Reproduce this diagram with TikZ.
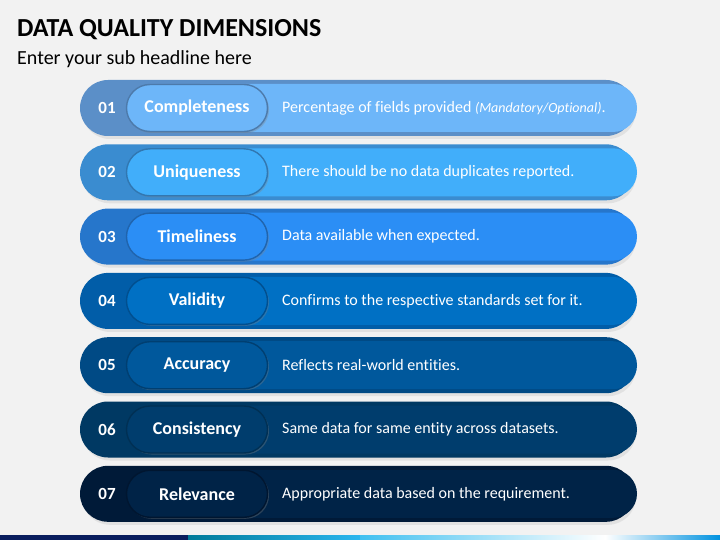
\documentclass[tikz,border=0pt]{standalone}
\usepackage{fontspec}
\setmainfont[Ligatures=NoCommon]{Carlito}
\usetikzlibrary{shapes.misc,shadows}
% row colours: dark rim / light face
\definecolor{dk1}{HTML}{5B8FC8}\definecolor{lt1}{HTML}{6DB6F9}
\definecolor{dk2}{HTML}{3A8CD0}\definecolor{lt2}{HTML}{41AEFA}
\definecolor{dk3}{HTML}{2676CB}\definecolor{lt3}{HTML}{2B8EF5}
\definecolor{dk4}{HTML}{015DA8}\definecolor{lt4}{HTML}{0070C4}
\definecolor{dk5}{HTML}{004A85}\definecolor{lt5}{HTML}{00589C}
\definecolor{dk6}{HTML}{003963}\definecolor{lt6}{HTML}{003D6D}
\definecolor{dk7}{HTML}{001A38}\definecolor{lt7}{HTML}{002347}
\definecolor{pagegray}{HTML}{F2F2F2}
\definecolor{navy}{HTML}{0A1E5E}
\tikzset{
  rowback/.style={rounded rectangle, inner sep=0pt, minimum width=554pt, minimum height=56pt,
    drop shadow={opacity=0.15, shadow xshift=2pt, shadow yshift=-3pt}},
  rowbar/.style={rounded rectangle, rounded rectangle left arc=none, inner sep=0pt,
    minimum width=437pt, minimum height=48pt},
  tagpill/.style={rounded rectangle, inner sep=0pt, minimum width=141pt, minimum height=47pt,
    line width=1.4pt, text=white, font=\fontsize{18}{21}\selectfont\bfseries,
    drop shadow={opacity=0.35, shadow xshift=1.5pt, shadow yshift=-1.5pt}},
  numtext/.style={text=white, font=\fontsize{17}{20}\selectfont\bfseries},
  desctext/.style={anchor=west, inner sep=0pt, text=white, font=\fontsize{16}{19}\selectfont}
}
\begin{document}
\begin{tikzpicture}[x=1pt, y=-1pt]
  \useasboundingbox (0,0) rectangle (720,540);
  \fill[pagegray] (0,0) rectangle (720,540);
  % headings
  \node[anchor=base west, inner sep=0pt, font=\fontsize{26}{31}\selectfont\bfseries] (title) at (17,37) {DATA QUALITY DIMENSIONS};
  \node[anchor=base west, inner sep=0pt, font=\fontsize{20}{24}\selectfont] (subtitle) at (17,65) {Enter your sub headline here};
  % the seven rows
  \foreach \i/\name/\desc in {
      1/Completeness/{Percentage of fields provided {\fontsize{14}{17}\selectfont\itshape (Mandatory/Optional)}.},
      2/Uniqueness/{There should be no data duplicates reported.},
      3/Timeliness/{Data available when expected.},
      4/Validity/{Confirms to the respective standards set for it.},
      5/Accuracy/{Reflects real-world entities.},
      6/Consistency/{Same data for same entity across datasets.},
      7/Relevance/{Appropriate data based on the requirement.}} {
    \pgfmathsetmacro\yc{108+64.3*(\i-1)}
    \node[rowback, fill=dk\i] (back\i) at (357,\yc) {};
    \node[rowbar, fill=lt\i] (bar\i) at (418.5,\yc) {};
    \node[tagpill, fill=lt\i, draw=dk\i!85!black] (tag\i) at (197,\yc) {\name};
    \node[numtext] (num\i) at (107,\yc) {0\i};
    \node[desctext] (desc\i) at (282,\yc) {\desc};
  }
  % bottom strip
  \fill[navy] (0,535) rectangle (188,540);
  \shade[left color=blue!20!cyan!60!black, right color={rgb,255:red,43;green,182;blue,238}] (188,535) rectangle (360,540);
  \shade[left color={rgb,255:red,64;green,192;blue,240}, right color=white] (360,535) rectangle (605,540);
  \shade[left color=white, right color={rgb,255:red,0;green,146;blue,224}] (605,535) rectangle (720,540);
\end{tikzpicture}
\end{document}
